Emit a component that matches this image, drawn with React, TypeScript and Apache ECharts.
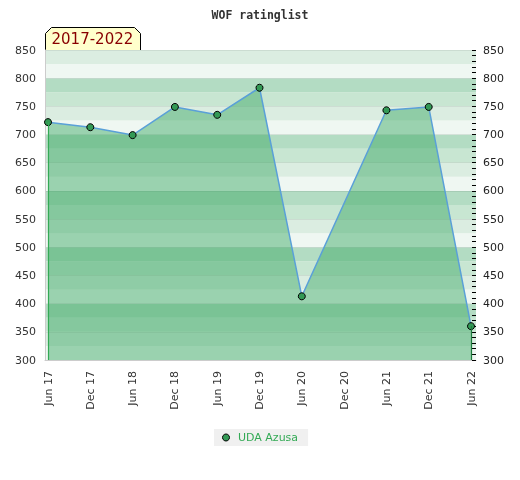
import React, { useEffect, useRef } from "react";
import * as echarts from "echarts";

const categories = ["Jun 17", "Dec 17", "Jun 18", "Dec 18", "Jun 19", "Dec 19", "Jun 20", "Dec 20", "Jun 21", "Dec 21", "Jun 22"];
const ratings: (number | null)[] = [722, 713, 699, 749, 735, 783, 413, null, 743, 749, 360];
const yTicks = [300, 350, 400, 450, 500, 550, 600, 650, 700, 750, 800, 850];
const seriesName = "UDA Azusa";
const titleText = "WOF ratinglist";
const periodText = "2017-2022";

const bandColors = ["#eff7f2", "#dbede1", "#c8e6d2", "#b3dcc3"];

export default function App() {
  const ref = useRef<HTMLDivElement>(null);
  useEffect(() => {
    if (!ref.current) return;
    const chart = echarts.init(ref.current, undefined, { renderer: "svg" });
    const yMin = yTicks[0];
    const yMax = yTicks[yTicks.length - 1];
    const data = ratings
      .map((v, i) => (v == null ? null : [i, v]))
      .filter((d) => d != null) as number[][];
    const lastIdx = ratings.length - 1;
    const font = "DejaVu Sans";
    chart.setOption({
      animation: false,
      title: {
        text: titleText,
        left: "center",
        top: 4,
        textStyle: { fontFamily: "DejaVu Sans Mono", fontWeight: "bold", fontSize: 11.5, color: "#333" },
      },
      grid: { left: 45, right: 44, top: 50, bottom: 120, containLabel: false },
      legend: {
        bottom: 34,
        left: 214,
        backgroundColor: "#f0f0f0",
        padding: [3, 10, 3, 8],
        itemWidth: 14,
        itemHeight: 7,
        symbolKeepAspect: true,
        itemGap: 6,
        textStyle: { color: "#33aa55", fontFamily: font, fontSize: 11 },
        data: [{ name: seriesName, icon: "circle", itemStyle: { color: "#339955", borderColor: "#000", borderWidth: 1 } }],
      },
      xAxis: {
        type: "value",
        min: -0.071,
        max: lastIdx + 0.118,
        axisLine: { show: true, onZero: false, lineStyle: { color: "#cccccc" } },
        axisTick: { show: false },
        splitLine: { show: false },
        axisLabel: {
          customValues: categories.map((_, i) => i),
          rotate: 90,
          margin: 11,
          color: "#333",
          fontFamily: font,
          fontSize: 11,
          formatter: (v: number) => categories[Math.round(v)] ?? "",
        },
      },
      yAxis: [
        {
          type: "value",
          min: yMin,
          max: yMax,
          interval: 25,
          position: "left",
          axisLine: { show: false },
          axisTick: { show: false },
          axisLabel: { show: false },
          splitLine: { show: false },
          splitArea: { show: true, areaStyle: { color: bandColors } },
        },
        {
          type: "value",
          min: yMin,
          max: yMax,
          interval: 50,
          position: "left",
          axisLine: { show: true, lineStyle: { color: "#cccccc" } },
          axisTick: { show: false },
          axisLabel: { margin: 9, color: "#333", fontFamily: font, fontSize: 11 },
          splitLine: { show: true, lineStyle: { color: "rgba(0,0,0,0.07)" } },
        },
        {
          type: "value",
          min: yMin,
          max: yMax,
          interval: 50,
          position: "right",
          axisLine: { show: false },
          axisTick: { show: true, inside: true, length: 4, lineStyle: { color: "#000" } },
          minorTick: { show: true, splitNumber: 5, length: 4, lineStyle: { color: "#000" } },
          axisLabel: { margin: 7, color: "#222", fontFamily: font, fontSize: 11 },
          splitLine: { show: false },
        },
      ],
      series: [
        {
          name: seriesName,
          type: "line",
          yAxisIndex: 1,
          data,
          symbol: "circle",
          symbolSize: 7,
          itemStyle: { color: "#339955", borderColor: "#000", borderWidth: 1 },
          lineStyle: { color: "#5aa0d8", width: 1.5 },
          areaStyle: { color: "rgb(55,165,95)", opacity: 0.46, origin: "start" },
          markLine: {
            silent: true,
            symbol: ["none", "none"],
            label: { show: false },
            lineStyle: { type: "solid", width: 1.2 },
            data: [
              [
                { coord: [0, yMin], lineStyle: { color: "#33aa55" } },
                { coord: [0, ratings[0]] },
              ],
              [
                { coord: [lastIdx, yMin], lineStyle: { color: "#1e7a3c" } },
                { coord: [lastIdx, ratings[lastIdx]] },
              ],
            ],
          },
          z: 3,
        },
      ],
      graphic: [
        {
          type: "group",
          left: 45,
          top: 27,
          z: 100,
          children: [
            {
              type: "polygon",
              shape: { points: [[0, 23], [0, 6], [6, 0], [89, 0], [95, 6], [95, 23]] },
              style: { fill: "#ffffcc", stroke: "#000", lineWidth: 1 },
            },
            {
              type: "text",
              x: 6,
              y: 4,
              style: { text: periodText, fill: "#880000", font: "15px 'DejaVu Sans'" },
            },
          ],
        },
      ],
    });
    return () => chart.dispose();
  }, []);
  return <div ref={ref} style={{ position: "fixed", left: 0, top: 0, width: 520, height: 480 }} />;
}
